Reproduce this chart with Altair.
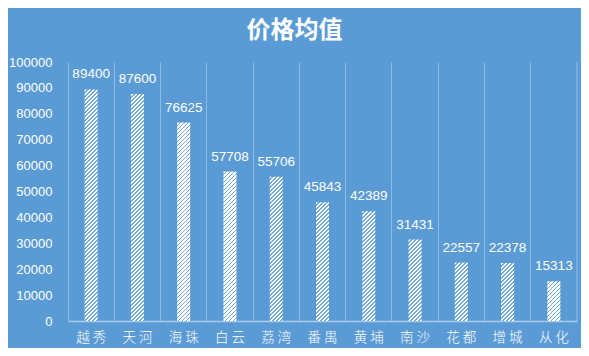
import math
import altair as alt
import pandas as pd

# ---- data ----
districts = ["越秀", "天河", "海珠", "白云", "荔湾", "番禺", "黄埔", "南沙", "花都", "增城", "从化"]
mean_price = [89400, 87600, 76625, 57708, 55706, 45843, 42389, 31431, 22557, 22378, 15313]
y_ticks = [0, 10000, 20000, 30000, 40000, 50000, 60000, 70000, 80000, 90000, 100000]
chart_title = "价格均值"

# ---- styling ----
BG = "#5B9BD5"
STRIPE_BLUE = "#74AADD"
GRID = "#8FBCE6"
AXIS_LINE = "#A6CBEC"
W, H = 509, 259
BAR_W = 13
Y_MAX = 100000
CJK = "Noto Sans CJK SC"
NUM = "Liberation Sans"

df = pd.DataFrame({"district": districts, "price": mean_price})


def hatch(value):
    """Diagonal '////' hatch built as a linear gradient in the bar's box."""
    h = value / Y_MAX * H
    w = BAR_W
    s = w + h
    k = s / (w * w + h * h)
    period = 4.0
    white_part = 2.4
    stops = []
    n = math.ceil(s / period)
    for i in range(n):
        a = min(i * period / s, 1)
        b = min((i * period + white_part) / s, 1)
        c = min((i + 1) * period / s, 1)
        stops += [
            alt.GradientStop(offset=a, color="#FFFFFF"),
            alt.GradientStop(offset=b, color="#FFFFFF"),
            alt.GradientStop(offset=b, color=STRIPE_BLUE),
            alt.GradientStop(offset=c, color=STRIPE_BLUE),
        ]
    return alt.Gradient(gradient="linear", x1=0, y1=0, x2=w * k, y2=h * k, stops=stops)


x_enc = alt.X(
    "district:N",
    sort=districts,
    scale=alt.Scale(domain=districts, paddingInner=0, paddingOuter=0),
    axis=alt.Axis(
        title=None,
        bandPosition=0,
        grid=True,
        gridColor=GRID,
        gridWidth=1,
        domainColor=AXIS_LINE,
        domainWidth=1.5,
        ticks=False,
        labelAngle=0,
        labelColor="white",
        labelFont=CJK,
        labelFontSize=13.5,
        labelFontWeight=300,
        labelPadding=9,
        labelExpr="join(split(datum.label, ''), ' ')",
    ),
)
y_enc = alt.Y(
    "price:Q",
    scale=alt.Scale(domain=[0, Y_MAX], nice=False),
    axis=alt.Axis(
        title=None,
        values=y_ticks,
        format="d",
        grid=False,
        domain=False,
        ticks=False,
        labelColor="white",
        labelFont=NUM,
        labelFontSize=13,
        labelPadding=16,
    ),
)

bars = [
    alt.Chart(df)
    .transform_filter(alt.datum.district == d)
    .mark_bar(size=BAR_W, fill=hatch(v))
    .encode(x=x_enc, y=y_enc)
    for d, v in zip(districts, mean_price)
]

labels = (
    alt.Chart(df)
    .mark_text(dy=-15, baseline="middle", color="white", font=NUM, fontSize=13.5)
    .encode(x=x_enc, y=y_enc, text=alt.Text("price:Q", format="d"))
)

right_edge = (
    alt.Chart(pd.DataFrame({"k": [0]}))
    .mark_rule(color=GRID, strokeWidth=1)
    .encode(x=alt.value(W), y=alt.value(0), y2=alt.value(H))
)

chart = (
    alt.layer(*bars, labels, right_edge)
    .properties(
        width=W,
        height=H,
        title=alt.TitleParams(
            chart_title,
            color="white",
            font=CJK,
            fontSize=24,
            fontWeight="bold",
            anchor="middle",
            dx=-28,
            offset=13,
        ),
        autosize=alt.AutoSizeParams(type="none"),
        padding={"left": 60, "top": 54, "right": 4, "bottom": 27},
    )
    .configure(background=BG)
    .configure_view(stroke=None)
)

chart.save("out.html", embed_options={"renderer": "svg", "actions": False})
